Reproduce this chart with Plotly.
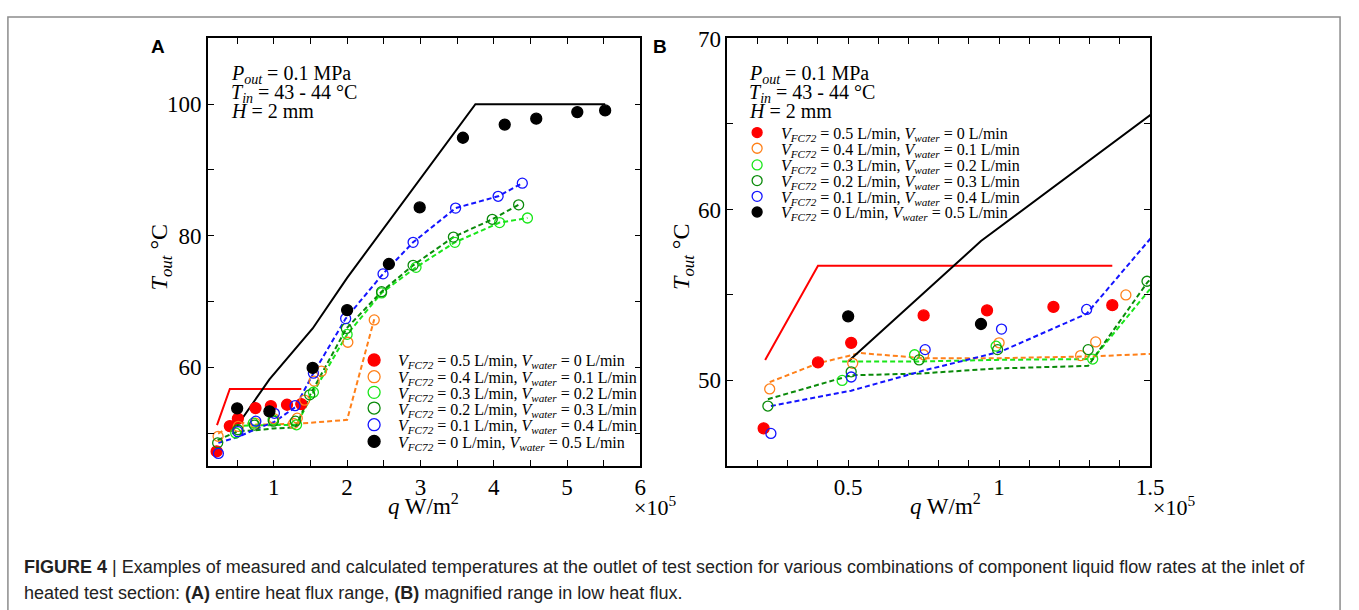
import plotly.graph_objects as go

W, H = 1359, 610

# ---------------- data (q in units of 1e5 W/m2, T in deg C) ----------------
# measured (markers)
red_q = [0.22, 0.40, 0.51, 0.75, 0.96, 1.18, 1.375]
red_T = [47.2, 51.05, 52.2, 53.8, 54.1, 54.3, 54.4]

orange_q = [0.24, 0.515, 0.75, 1.0, 1.27, 1.32, 1.42, 1.55, 1.65, 2.01, 2.37]
orange_T = [49.5, 51.0, 51.5, 52.2, 51.45, 52.25, 55.0, 57.9, 59.4, 63.8, 67.2]

lime_q = [0.48, 0.72, 0.99, 1.31, 1.54, 2.0, 2.47, 2.94, 3.47, 4.08, 4.46]
lime_T = [50.0, 51.5, 52.0, 51.25, 56.2, 65.0, 71.3, 75.2, 79.0, 82.0, 82.7]

dgreen_q = [0.234, 0.51, 0.735, 0.995, 1.295, 1.49, 1.99, 2.47, 2.90, 3.45, 3.98, 4.34]
dgreen_T = [48.5, 50.5, 51.2, 51.8, 51.8, 55.8, 65.9, 71.5, 75.5, 79.8, 82.5, 84.7]

blue_q = [0.244, 0.51, 0.755, 1.008, 1.29, 1.54, 1.98, 2.49, 2.90, 3.48, 4.06, 4.39]
blue_T = [46.9, 50.2, 51.8, 53.0, 54.15, 59.1, 67.4, 74.2, 79.0, 84.2, 86.0, 88.0]

black_q = [0.50, 0.94, 1.53, 2.0, 2.57, 2.99, 3.58, 4.15, 4.58, 5.14, 5.52]
black_T = [53.75, 53.3, 59.9, 68.7, 75.7, 84.3, 94.9, 96.9, 97.8, 98.8, 99.05]

# calculated (lines)
red_calc_q = [0.225, 0.40, 1.375]
red_calc_T = [51.2, 56.7, 56.7]

orange_calc_q = [0.24, 0.40, 0.54, 0.75, 1.0, 1.3, 1.5, 2.0, 2.37]
orange_calc_T = [49.9, 51.0, 51.6, 51.3, 51.3, 51.4, 51.55, 52.0, 67.3]

lime_calc_q = [0.48, 0.72, 0.99, 1.31, 1.54, 2.0, 2.47, 2.94, 3.47, 4.08, 4.46]
lime_calc_T = [51.1, 51.1, 51.2, 51.25, 56.2, 65.0, 71.3, 75.2, 79.0, 82.0, 82.7]

dgreen_calc_q = [0.234, 0.51, 0.735, 0.995, 1.295, 1.49, 1.99, 2.47, 2.90, 3.45, 3.98, 4.34]
dgreen_calc_T = [48.9, 50.3, 50.4, 50.7, 50.85, 55.7, 65.9, 71.5, 75.5, 79.8, 82.5, 84.7]

blue_calc_q = [0.244, 0.51, 0.755, 1.008, 1.29, 1.54, 1.98, 2.49, 2.90, 3.48, 4.06, 4.39]
blue_calc_T = [48.5, 49.4, 50.6, 51.7, 53.9, 59.1, 67.4, 74.2, 79.0, 84.2, 86.0, 88.0]

black_calc_q = [0.50, 0.94, 1.53, 2.0, 3.75, 5.52]
black_calc_T = [51.1, 58.15, 65.9, 73.6, 100.0, 100.0]

series_labels = [
    "<i>V</i><sub><i>FC72</i></sub> = 0.5 L/min, <i>V</i><sub><i>water</i></sub> = 0 L/min",
    "<i>V</i><sub><i>FC72</i></sub> = 0.4 L/min, <i>V</i><sub><i>water</i></sub> = 0.1 L/min",
    "<i>V</i><sub><i>FC72</i></sub> = 0.3 L/min, <i>V</i><sub><i>water</i></sub> = 0.2 L/min",
    "<i>V</i><sub><i>FC72</i></sub> = 0.2 L/min, <i>V</i><sub><i>water</i></sub> = 0.3 L/min",
    "<i>V</i><sub><i>FC72</i></sub> = 0.1 L/min, <i>V</i><sub><i>water</i></sub> = 0.4 L/min",
    "<i>V</i><sub><i>FC72</i></sub> = 0 L/min, <i>V</i><sub><i>water</i></sub> = 0.5 L/min",
]
info_lines = [
    "<i>P</i><sub><i>out</i></sub> = 0.1 MPa",
    "<i>T</i><sub><i>in</i></sub> = 43 - 44 °C",
    "<i>H</i> = 2 mm",
]
xA_ticks = [1, 2, 3, 4, 5, 6]
yA_ticks = [60, 80, 100]
xB_ticks = [0.5, 1.0, 1.5]
xB_labels = ["0.5", "1", "1.5"]
yB_ticks = [50, 60, 70]

# ---------------- styling ----------------
SERIF = "Liberation Serif, Times New Roman, serif"
RED, ORANGE, LIME, DGREEN, BLUE, BLACK = "#ff0000", "#ff8019", "#19e619", "#0a8a0a", "#1414ff", "#000000"

measured = [
    (red_q, red_T, RED, True),
    (orange_q, orange_T, ORANGE, False),
    (lime_q, lime_T, LIME, False),
    (dgreen_q, dgreen_T, DGREEN, False),
    (blue_q, blue_T, BLUE, False),
    (black_q, black_T, BLACK, True),
]
calculated = [
    (red_calc_q, red_calc_T, RED, "solid"),
    (orange_calc_q, orange_calc_T, ORANGE, "dash"),
    (lime_calc_q, lime_calc_T, LIME, "dash"),
    (dgreen_calc_q, dgreen_calc_T, DGREEN, "dash"),
    (blue_calc_q, blue_calc_T, BLUE, "dash"),
    (black_calc_q, black_calc_T, BLACK, "solid"),
]

fig = go.Figure()
for xa, ya in (("x", "y"), ("x2", "y2")):
    for q, T, c, d in calculated:
        fig.add_trace(go.Scatter(
            x=q, y=T, mode="lines", xaxis=xa, yaxis=ya, showlegend=False,
            line=dict(color=c, width=2, dash="5px,3px" if d == "dash" else "solid"),
            hoverinfo="skip"))
    for (q, T, c, filled), lab in zip(measured, series_labels):
        fig.add_trace(go.Scatter(
            x=q, y=T, mode="markers", xaxis=xa, yaxis=ya, showlegend=False, name=lab,
            marker=dict(symbol="circle" if filled else "circle-open", size=11 if filled else 10,
                        color=c, line=dict(color=c, width=1.3))))


def px(x):
    return x / W


def py(y):
    return 1 - y / H


def axis_common(minor_dtick, minor_tick0):
    return dict(showline=True, linecolor="black", linewidth=1.5, mirror="ticks",
                ticks="inside", ticklen=6, tickwidth=1.2, tickcolor="black",
                showgrid=False, zeroline=False,
                minor=dict(ticks="inside", ticklen=6, tickwidth=1.2, tickcolor="black",
                           dtick=minor_dtick, tick0=minor_tick0, showgrid=False),
                tickfont=dict(family=SERIF, size=23, color="black"))


fig.update_layout(
    width=W, height=H, margin=dict(l=0, r=0, t=0, b=0),
    paper_bgcolor="white", plot_bgcolor="white", showlegend=False,
    xaxis=dict(domain=[px(210), px(647)], range=[0.1, 6], anchor="y",
               tickvals=xA_ticks, ticktext=[str(v) for v in xA_ticks],
               **axis_common(0.5, 0)),
    yaxis=dict(domain=[py(463), py(27)], range=[45, 110], anchor="x",
               tickvals=yA_ticks, ticktext=[str(v) for v in yA_ticks],
               **axis_common(10, 0)),
    xaxis2=dict(domain=[px(735), px(1162)], range=[0.1, 1.5], anchor="y2",
                tickvals=xB_ticks, ticktext=xB_labels,
                **axis_common(0.1, 0)),
    yaxis2=dict(domain=[py(463), py(27)], range=[45, 70], anchor="x2",
                tickvals=yB_ticks, ticktext=[str(v) for v in yB_ticks],
                **axis_common(5, 0)),
)

ann = []
shapes = []

# outer frame
shapes.append(dict(type="rect", xref="paper", yref="paper", x0=px(8), x1=px(1354), y0=-0.02, y1=py(5),
                   line=dict(color="#8c8c8c", width=1.5), fillcolor="rgba(0,0,0,0)", layer="below"))

# panel letters
for letter, x0 in (("A", 160), ("B", 667)):
    ann.append(dict(text="<b>%s</b>" % letter, xref="paper", yref="paper", x=px(x0), y=py(35),
                    xanchor="center", yanchor="middle", showarrow=False,
                    font=dict(family="Liberation Sans, Arial, sans-serif", size=19, color="black")))

# info text
for left in (231, 755):
    for line, yc in zip(info_lines, (64, 83, 101)):
        ann.append(dict(text=line, xref="paper", yref="paper", x=px(left), y=py(yc),
                        xanchor="left", yanchor="middle", showarrow=False,
                        font=dict(family=SERIF, size=20, color="black")))

# axis titles
for xc in (428, 955):
    ann.append(dict(text="<i>q</i> W/m<sup>2</sup>", xref="paper", yref="paper", x=px(xc), y=py(502),
                    xanchor="center", yanchor="middle", showarrow=False,
                    font=dict(family=SERIF, size=23, color="black")))
for xc in (662, 1186):
    ann.append(dict(text="×10<sup>5</sup>", xref="paper", yref="paper", x=px(xc), y=py(504),
                    xanchor="center", yanchor="middle", showarrow=False,
                    font=dict(family=SERIF, size=22, color="black")))
for xc in (163, 690):
    ann.append(dict(text="<i>T</i><sub><i>out</i></sub> °C", xref="paper", yref="paper", x=px(xc), y=py(250),
                    xanchor="center", yanchor="middle", showarrow=False, textangle=-90,
                    font=dict(family=SERIF, size=24, color="black")))

# manual legends
legend_specs = [
    (378, 400, [355, 372, 388, 404, 421, 438], 6),
    (765, 787, [123, 139, 156, 172, 188, 204], 5),
]
for mx, tx, rows, r in legend_specs:
    for (q, T, c, filled), lab, yc in zip(measured, series_labels, rows):
        shapes.append(dict(type="circle", xref="paper", yref="paper",
                           xsizemode="pixel", ysizemode="pixel",
                           xanchor=px(mx), yanchor=py(yc), x0=-r, x1=r, y0=-r, y1=r,
                           line=dict(color=c, width=1.3),
                           fillcolor=c if filled else "rgba(0,0,0,0)"))
        ann.append(dict(text=lab, xref="paper", yref="paper", x=px(tx), y=py(yc + 2),
                        xanchor="left", yanchor="middle", showarrow=False,
                        font=dict(family=SERIF, size=16, color="black")))

# caption
CAP = "Liberation Sans Narrow, Arial Narrow, Liberation Sans, Arial, sans-serif"
ann.append(dict(text="<b>FIGURE 4</b> | Examples of measured and calculated temperatures at the outlet of test section "
                     "for various combinations of component liquid flow rates at the inlet of",
                xref="paper", yref="paper", x=px(22), y=py(566), xanchor="left", yanchor="middle",
                showarrow=False, font=dict(family=CAP, size=18, color="#222222")))
ann.append(dict(text="heated test section: <b>(A)</b> entire heat flux range, <b>(B)</b> magnified range in low heat flux.",
                xref="paper", yref="paper", x=px(22), y=py(593), xanchor="left", yanchor="middle",
                showarrow=False, font=dict(family=CAP, size=18, color="#222222")))

fig.update_layout(annotations=ann, shapes=shapes)
fig.write_html("out.html", post_script="document.body.style.margin='0';document.body.style.overflow='hidden';")
